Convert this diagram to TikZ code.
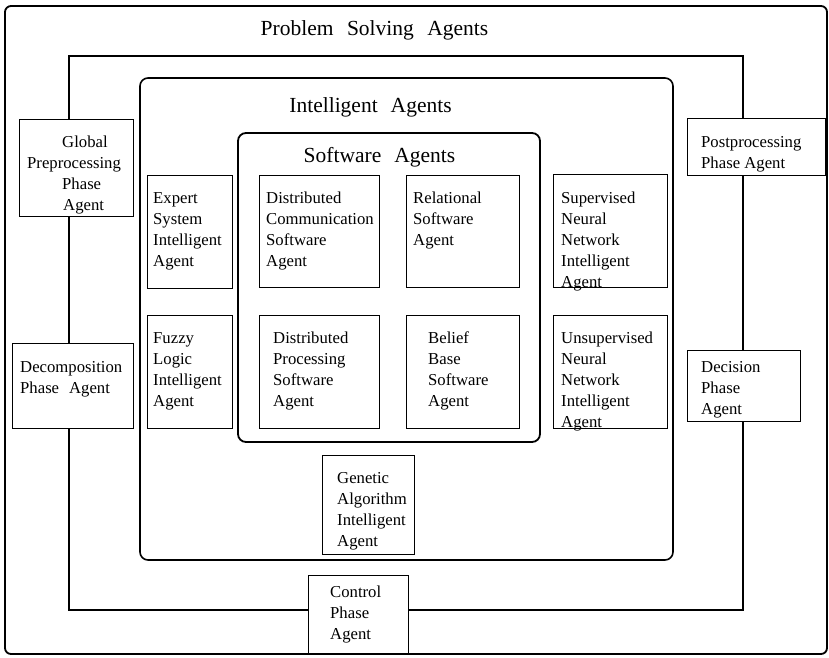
\documentclass[tikz,border=0pt]{standalone}
\usepackage{fontspec}
\setmainfont{Liberation Serif}
% stacked lines whose baseline is the first line
\newcommand{\ml}[1]{\begin{tabular}[t]{@{}l@{}}#1\end{tabular}}
\tikzset{
  outerframe/.style={draw, line width=1.8pt, rounded corners=6pt},
  roundframe/.style={draw, line width=1.6pt, rounded corners=8pt},
  squareframe/.style={draw, line width=1.5pt},
  agbox/.style={draw, fill=white, line width=1.2pt, inner sep=0pt, anchor=north west},
  lbl/.style={anchor=base west, inner sep=0pt, font=\fontsize{16.7}{21}\selectfont},
  ttl/.style={anchor=base, inner sep=0pt, font=\fontsize{21.5}{26}\selectfont},
}
% box from (x1,y1) to (x2,y2), y growing downwards
\newcommand{\abox}[5]{\node[agbox, minimum width={#4pt-#2pt}, minimum height={#5pt-#3pt}] (#1) at (#2,#3) {};}
\begin{document}
\begin{tikzpicture}[x=1pt, y=-1pt]
\useasboundingbox (0,0) rectangle (829,657);
\fill[white] (0,0) rectangle (829,657);

% nested frames
\draw[outerframe] (5,6) rectangle (827,654);
\draw[squareframe] (69,56) rectangle (743,610);
\draw[roundframe] (140,78) rectangle (673,560);
\draw[roundframe, line width=1.8pt] (238,133) rectangle (540,442);

% titles
\node[ttl] (tps) at (374.5,35) {Problem\hspace{13.5pt}Solving\hspace{13.5pt}Agents};
\node[ttl] (tia) at (370.5,112) {Intelligent\hspace{13pt}Agents};
\node[ttl] (tsa) at (379.5,162) {Software\hspace{13pt}Agents};

% phase agents on the problem solving frame
\abox{gpp}{19}{119}{133}{216}
\node[lbl] (gpp-t) at (27,147) {\ml{\hspace*{35pt}Global\\Preprocessing\\\hspace*{35pt}Phase\\\hspace*{36pt}Agent}};
\abox{dec}{12}{343}{133}{428}
\node[lbl] (dec-t) at (20,372) {\ml{Decomposition\\Phase\hspace{10pt}Agent}};
\abox{post}{687}{118}{825}{175}
\node[lbl] (post-t) at (701,147) {\ml{Postprocessing\\Phase Agent}};
\abox{dcs}{687}{350}{800}{421}
\node[lbl] (dcs-t) at (701,372) {\ml{Decision\\Phase\\Agent}};
\abox{ctl}{308}{575}{408}{653}
\node[lbl] (ctl-t) at (330,597) {\ml{Control\\Phase\\Agent}};

% intelligent agents
\abox{exp}{147}{175}{232}{288}
\node[lbl] (exp-t) at (153,203) {\ml{Expert\\System\\Intelligent\\Agent}};
\abox{fuz}{147}{315}{232}{428}
\node[lbl] (fuz-t) at (153,343) {\ml{Fuzzy\\Logic\\Intelligent\\Agent}};
\abox{sup}{553}{174}{667}{287}
\node[lbl] (sup-t) at (561,203) {\ml{Supervised\\Neural\\Network\\Intelligent\\Agent}};
\abox{uns}{553}{315}{667}{428}
\node[lbl] (uns-t) at (561,343) {\ml{Unsupervised\\Neural\\Network\\Intelligent\\Agent}};
\abox{gen}{322}{455}{414}{554}
\node[lbl] (gen-t) at (337,483) {\ml{Genetic\\Algorithm\\Intelligent\\Agent}};

% software agents
\abox{dco}{259}{175}{379}{287}
\node[lbl] (dco-t) at (266,203) {\ml{Distributed\\Communication\\Software\\Agent}};
\abox{rel}{406}{175}{519}{287}
\node[lbl] (rel-t) at (413,203) {\ml{Relational\\Software\\Agent}};
\abox{dpr}{259}{315}{379}{428}
\node[lbl] (dpr-t) at (273,343) {\ml{Distributed\\Processing\\Software\\Agent}};
\abox{bel}{406}{315}{519}{428}
\node[lbl] (bel-t) at (428,343) {\ml{Belief\\Base\\Software\\Agent}};
\end{tikzpicture}
\end{document}
